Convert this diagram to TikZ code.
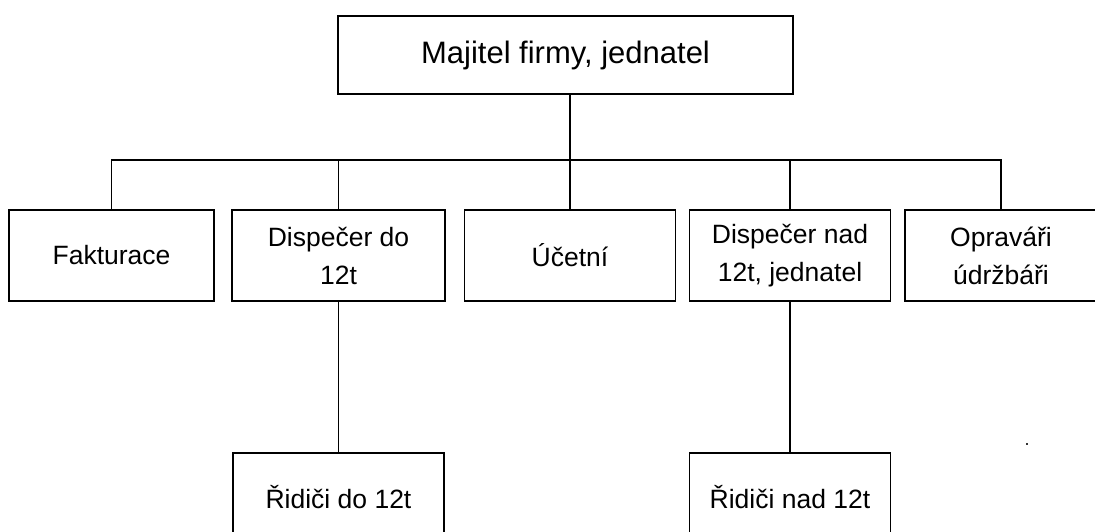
\documentclass[tikz,border=0pt]{standalone}
\usepackage{fontspec}
\setmainfont{Liberation Sans}
\usepackage{tikz}
\usetikzlibrary{positioning}

\begin{document}
\begin{tikzpicture}[
  x=1pt, y=-1pt,
  unit/.style={draw=black, line width=1.4pt, fill=white, align=center,
               inner sep=0pt, minimum height=91pt,
               font=\fontsize{26.5}{38}\selectfont},
  head/.style={unit, line width=1.8pt, minimum height=78pt,
               font=\fontsize{31}{37}\selectfont},
  link/.style={draw=black, line width=1.3pt},
]
\useasboundingbox (0,0) rectangle (1095,532);
% top
\node[head, minimum width=455pt] (owner)   at (565.5, 55)   {Majitel firmy, jednatel};
% second row
\node[unit, minimum width=205pt] (billing)  at (111.5, 255.5) {Fakturace};
\node[unit, minimum width=213pt] (dispLow)  at (338.5, 255.5) {Dispečer do\\12t};
\node[unit, minimum width=211pt] (acct)     at (570,   255.5) {Účetní};
\node[unit, minimum width=201pt] (dispHigh) at (790,   255.5) {Dispečer nad\\12t, jednatel};
\node[unit, minimum width=192pt] (repair)   at (1001,  255.5) {Opraváři\\údržbáři};
% drivers
\node[unit, minimum width=211pt, minimum height=88pt] (drvLow)  at (338.5, 497) {Řidiči do 12t};
\node[unit, minimum width=201pt, minimum height=88pt] (drvHigh) at (790,   497) {Řidiči nad 12t};
\node[fill=black!80, inner sep=0pt, minimum size=2.5pt] (dot) at (1027, 444) {};
\coordinate (bus) at (570, 160);
\draw[link] (owner.south -| acct.north) -- (acct.north);
\draw[link] (billing.north) |- (bus) -| (repair.north);
\draw[link] (dispLow.north) -- (dispLow.north |- bus);
\draw[link] (dispHigh.north) -- (dispHigh.north |- bus);
\draw[link] (dispLow.south) -- (drvLow.north);
\draw[link] (dispHigh.south) -- (drvHigh.north);
\end{tikzpicture}
\end{document}
